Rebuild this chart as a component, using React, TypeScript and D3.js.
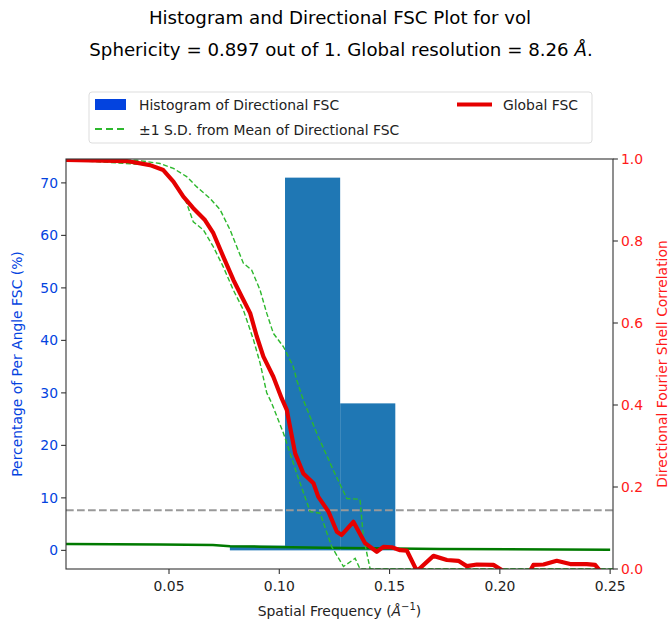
import { useMemo } from "react";
import * as d3 from "d3";

const WIDTH = 670;
const HEIGHT = 627;
const MARGIN = { top: 159, right: 57, bottom: 58, left: 66 };

// histogram of directional FSC (bins in 1/Å, percent)
const binEdges = [0.0776, 0.1026, 0.1276, 0.1526];
const binPercent = [0.9, 71.0, 28.0];

// global FSC
const fscFreq = [0.0033, 0.0308, 0.0414, 0.0474, 0.052, 0.0565, 0.061, 0.0663, 0.0701, 0.0746, 0.0792, 0.083, 0.0868, 0.0898, 0.0928, 0.0973, 0.1011, 0.1034, 0.1072, 0.1109, 0.1155, 0.1177, 0.1223, 0.1261, 0.1283, 0.1336, 0.1389, 0.1442, 0.1472, 0.151, 0.1548, 0.1578, 0.1624, 0.1699, 0.176, 0.1812, 0.185, 0.1896, 0.1971, 0.2016, 0.2137, 0.2152, 0.2198, 0.2258, 0.2319, 0.2394, 0.2432, 0.2455];
const fscValues = [0.998, 0.995, 0.985, 0.973, 0.945, 0.908, 0.88, 0.851, 0.819, 0.762, 0.705, 0.664, 0.624, 0.567, 0.518, 0.469, 0.416, 0.388, 0.282, 0.233, 0.209, 0.176, 0.14, 0.091, 0.083, 0.115, 0.063, 0.042, 0.054, 0.053, 0.046, 0.045, -0.005, 0.032, 0.022, 0.02, 0.007, 0.011, 0.01, -0.005, -0.005, 0.01, 0.011, 0.02, 0.012, 0.012, 0.01, -0.005];

// mean + 1 SD
const upperFreq = [0.0033, 0.0354, 0.0459, 0.052, 0.058, 0.0626, 0.0686, 0.0732, 0.0777, 0.0837, 0.0875, 0.0913, 0.0943, 0.0973, 0.1019, 0.1064, 0.1079, 0.1109, 0.117, 0.1245, 0.1306, 0.1366, 0.1381, 0.1412, 0.2513];
const upperValues = [0.998, 0.997, 0.989, 0.977, 0.957, 0.932, 0.904, 0.876, 0.827, 0.746, 0.729, 0.68, 0.624, 0.575, 0.542, 0.493, 0.461, 0.412, 0.331, 0.241, 0.172, 0.17, 0.079, 0.0, 0.0];

// mean - 1 SD
const lowerFreq = [0.0033, 0.0429, 0.049, 0.055, 0.058, 0.061, 0.0656, 0.0701, 0.0746, 0.0792, 0.0837, 0.0883, 0.0913, 0.0943, 0.0966, 0.1019, 0.1079, 0.114, 0.1185, 0.1238, 0.1291, 0.1344, 0.1366, 0.2513];
const lowerValues = [0.998, 0.985, 0.965, 0.924, 0.892, 0.847, 0.827, 0.786, 0.737, 0.68, 0.632, 0.559, 0.502, 0.43, 0.404, 0.331, 0.233, 0.14, 0.136, 0.054, 0.006, 0.026, 0.0, 0.0];

// solid green line (left axis, %)
const baseFreq = [0.0033, 0.0459, 0.0699, 0.0777, 0.0913, 0.12, 0.173, 0.25];
const baseValues = [1.22, 1.13, 1.0, 0.8, 0.7, 0.5, 0.25, 0.13];

const xTicks = [0.05, 0.1, 0.15, 0.2, 0.25];
const leftTicks = [0, 10, 20, 30, 40, 50, 60, 70];
const rightTicks = [0, 0.2, 0.4, 0.6, 0.8, 1.0];
const threshold = 0.143;

const BLUE = "#0343df";
const RED = "#e50000";
const FONT = "DejaVu Sans, sans-serif";

export default function App() {
  const innerW = WIDTH - MARGIN.left - MARGIN.right;
  const innerH = HEIGHT - MARGIN.top - MARGIN.bottom;

  const x = useMemo(() => d3.scaleLinear().domain([0.0033, 0.2513]).range([0, innerW]), [innerW]);
  const yL = useMemo(() => d3.scaleLinear().domain([-3.55, 74.55]).range([innerH, 0]), [innerH]);
  const yR = useMemo(() => d3.scaleLinear().domain([0, 1]).range([innerH, 0]), [innerH]);

  const lineR = (fs: number[], vs: number[]) =>
    d3.line<number>().x((d) => x(d)).y((_, i) => yR(vs[i]))(fs) ?? "";
  const lineL = d3.line<number>().x((d) => x(d)).y((_, i) => yL(baseValues[i]))(baseFreq) ?? "";

  return (
    <svg width={WIDTH} height={HEIGHT} style={{ position: "absolute", left: 0, top: 0, fontFamily: FONT }}>
      <defs>
        <clipPath id="plot">
          <rect x={0} y={0} width={innerW} height={innerH} />
        </clipPath>
      </defs>
      <text x={340} y={24} textAnchor="middle" fontSize={18.2} fill="#000">
        Histogram and Directional FSC Plot for vol
      </text>
      <text x={341} y={56} textAnchor="middle" fontSize={18.2} fill="#000">
        Sphericity = 0.897 out of 1. Global resolution = 8.26 <tspan fontStyle="italic">Å</tspan>.
      </text>

      <g transform={`translate(${MARGIN.left},${MARGIN.top})`}>
        <g clipPath="url(#plot)">
          {binPercent.map((v, i) => (
            <rect
              key={i}
              x={x(binEdges[i])}
              width={x(binEdges[i + 1]) - x(binEdges[i])}
              y={yL(v)}
              height={yL(0) - yL(v)}
              fill="#1f77b4"
            />
          ))}
          <path d={lineL} fill="none" stroke="#007a00" strokeWidth={2.5} />
          <line x1={0} x2={innerW} y1={yR(threshold)} y2={yR(threshold)} stroke="#999" strokeWidth={2} strokeDasharray="7.7,3.3" />
          <path d={lineR(upperFreq, upperValues)} fill="none" stroke="#2db82d" strokeWidth={1.4} strokeDasharray="5,2.5" />
          <path d={lineR(lowerFreq, lowerValues)} fill="none" stroke="#2db82d" strokeWidth={1.4} strokeDasharray="5,2.5" />
          <path d={lineR(fscFreq, fscValues)} fill="none" stroke={RED} strokeWidth={4.2} strokeLinejoin="round" />
        </g>

        <rect x={0} y={0} width={innerW} height={innerH} fill="none" stroke="#333" strokeWidth={1.1} />

        {xTicks.map((t) => (
          <g key={t} transform={`translate(${x(t)},${innerH})`}>
            <line y2={4.9} stroke="#333" strokeWidth={1.1} />
            <text y={22} textAnchor="middle" fontSize={13.9} fill="#222">
              {t.toFixed(2)}
            </text>
          </g>
        ))}
        {leftTicks.map((t) => (
          <g key={t} transform={`translate(0,${yL(t)})`}>
            <line x2={-4.9} stroke="#333" strokeWidth={1.1} />
            <text x={-8} dy="0.35em" textAnchor="end" fontSize={13.9} fill={BLUE}>
              {t}
            </text>
          </g>
        ))}
        {rightTicks.map((t) => (
          <g key={t} transform={`translate(${innerW},${yR(t)})`}>
            <line x2={4.9} stroke="#333" strokeWidth={1.1} />
            <text x={8} dy="0.35em" textAnchor="start" fontSize={13.9} fill="#ff1a1a">
              {t.toFixed(1)}
            </text>
          </g>
        ))}

        <text x={innerW / 2} y={innerH + 47} textAnchor="middle" fontSize={13.9} fill="#222">
          Spatial Frequency (<tspan fontStyle="italic">Å</tspan>
          <tspan dy={-6} fontSize={10}>−1</tspan>
          <tspan dy={6}>)</tspan>
        </text>
        <text transform={`translate(${-44},${innerH / 2}) rotate(-90)`} textAnchor="middle" fontSize={13.9} fill={BLUE}>
          Percentage of Per Angle FSC (%)
        </text>
        <text transform={`translate(${innerW + 54},${innerH / 2}) rotate(-90)`} textAnchor="middle" fontSize={13.9} fill="#ff1a1a">
          Directional Fourier Shell Correlation
        </text>
      </g>

      {/* legend */}
      <g>
        <rect x={89} y={92} width={503} height={51} rx={3} fill="#fff" stroke="#ddd" strokeWidth={1} />
        <rect x={95} y={99} width={31} height={11} fill={BLUE} />
        <text x={139} y={110} fontSize={13.9} fill="#222">Histogram of Directional FSC</text>
        <line x1={95} x2={126} y1={129} y2={129} stroke="#2db82d" strokeWidth={1.8} strokeDasharray="7,4" />
        <text x={139} y={135} fontSize={13.9} fill="#222">±1 S.D. from Mean of Directional FSC</text>
        <line x1={457} x2={492} y1={104.5} y2={104.5} stroke={RED} strokeWidth={4.2} />
        <text x={503} y={110} fontSize={13.9} fill="#222">Global FSC</text>
      </g>
    </svg>
  );
}
